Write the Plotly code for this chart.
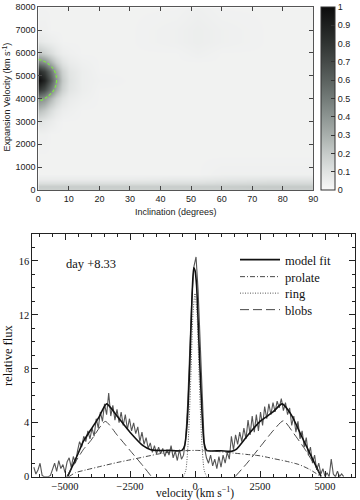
import plotly.graph_objects as go

# ---------------- top panel: likelihood map ----------------
inclination = [0, 2, 4, 6, 8, 10, 14, 20, 30, 45, 52, 60, 75, 90]
exp_velocity = [0, 150, 300, 450, 700, 1500, 2500, 3000, 3500, 4000, 4400, 4800,
                5200, 5600, 6000, 6500, 7000, 8000]
map_values = [
    [0.17, 0.17, 0.17, 0.17, 0.17, 0.17, 0.17, 0.17, 0.17, 0.17, 0.17, 0.17, 0.18, 0.18],
    [0.19, 0.19, 0.19, 0.19, 0.19, 0.19, 0.19, 0.19, 0.19, 0.19, 0.19, 0.19, 0.20, 0.20],
    [0.12, 0.12, 0.12, 0.12, 0.12, 0.12, 0.12, 0.12, 0.12, 0.12, 0.12, 0.13, 0.14, 0.14],
    [0.06, 0.06, 0.06, 0.06, 0.06, 0.06, 0.06, 0.06, 0.06, 0.07, 0.07, 0.08, 0.09, 0.09],
    [0.03, 0.03, 0.03, 0.03, 0.03, 0.03, 0.03, 0.03, 0.03, 0.03, 0.03, 0.04, 0.04, 0.04],
    [0.03, 0.03, 0.03, 0.03, 0.03, 0.03, 0.03, 0.03, 0.03, 0.03, 0.03, 0.03, 0.03, 0.03],
    [0.04, 0.04, 0.03, 0.03, 0.03, 0.03, 0.03, 0.03, 0.03, 0.03, 0.03, 0.03, 0.03, 0.03],
    [0.10, 0.08, 0.06, 0.04, 0.03, 0.03, 0.03, 0.03, 0.03, 0.03, 0.03, 0.03, 0.03, 0.03],
    [0.25, 0.20, 0.13, 0.08, 0.05, 0.04, 0.03, 0.03, 0.03, 0.03, 0.03, 0.03, 0.03, 0.03],
    [0.45, 0.40, 0.28, 0.17, 0.10, 0.06, 0.04, 0.03, 0.03, 0.03, 0.03, 0.03, 0.03, 0.03],
    [0.80, 0.70, 0.52, 0.32, 0.17, 0.09, 0.05, 0.03, 0.03, 0.03, 0.03, 0.03, 0.03, 0.03],
    [1.00, 0.88, 0.65, 0.40, 0.20, 0.10, 0.05, 0.035, 0.03, 0.03, 0.03, 0.03, 0.03, 0.03],
    [0.85, 0.75, 0.55, 0.33, 0.17, 0.09, 0.05, 0.03, 0.03, 0.03, 0.03, 0.03, 0.03, 0.03],
    [0.48, 0.42, 0.30, 0.18, 0.10, 0.06, 0.04, 0.03, 0.03, 0.03, 0.03, 0.03, 0.03, 0.03],
    [0.22, 0.18, 0.13, 0.08, 0.05, 0.04, 0.03, 0.03, 0.03, 0.03, 0.04, 0.03, 0.03, 0.03],
    [0.08, 0.06, 0.05, 0.04, 0.03, 0.03, 0.03, 0.03, 0.03, 0.04, 0.05, 0.04, 0.03, 0.03],
    [0.04, 0.04, 0.03, 0.03, 0.03, 0.03, 0.03, 0.03, 0.03, 0.04, 0.05, 0.04, 0.03, 0.03],
    [0.03, 0.03, 0.03, 0.03, 0.03, 0.03, 0.03, 0.03, 0.03, 0.03, 0.04, 0.03, 0.03, 0.03],
]
contour_level = 0.4
map_colorscale = [
    [0.0, '#f8f8f8'], [0.1, '#e0e3e2'], [0.2, '#c6cbc9'], [0.3, '#a8afac'],
    [0.4, '#8d9592'], [0.5, '#737b78'], [0.6, '#5b625f'], [0.7, '#454a48'],
    [0.8, '#303432'], [0.9, '#1e201f'], [1.0, '#0c0c0c'],
]

# ---------------- bottom panel: line profile ----------------
obs_velocity = [
    -6200, -6120, -6040, -5960, -5880, -5800, -5720, -5640, -5560, -5480,
    -5400, -5320, -5240, -5160, -5080, -5000, -4920, -4840, -4760, -4680,
    -4600, -4520, -4440, -4360, -4280, -4200, -4120, -4040, -3960, -3880,
    -3800, -3720, -3640, -3560, -3480, -3400, -3320, -3240, -3160, -3080,
    -3000, -2920, -2840, -2760, -2680, -2600, -2520, -2440, -2360, -2280,
    -2200, -2120, -2040, -1960, -1880, -1800, -1720, -1640, -1560, -1480,
    -1400, -1320, -1240, -1160, -1080, -1000, -920, -840, -760, -680,
    -600, -520, -440, -360, -280, -200, -120, -40, 40, 120,
    200, 280, 360, 440, 520, 600, 680, 760, 840, 920,
    1000, 1080, 1160, 1240, 1320, 1400, 1480, 1560, 1640, 1720,
    1800, 1880, 1960, 2040, 2120, 2200, 2280, 2360, 2440, 2520,
    2600, 2680, 2760, 2840, 2920, 3000, 3080, 3160, 3240, 3320,
    3400, 3480, 3560, 3640, 3720, 3800, 3880, 3960, 4040, 4120,
    4200, 4280, 4360, 4440, 4520, 4600, 4680, 4760, 4840, 4920,
    5000, 5080, 5160, 5240, 5320, 5400, 5480, 5560, 5640, 5720,
]
obs_flux = [
    0.7, 0.2, 0.5, 1.0, 0.1, 0.0, 0.0, 0.0, 0.1, 0.6,
    1.0, 0.4, 1.2, 0.6, 0.9, 0.3, 1.1, 1.4, 0.7, 1.5,
    1.0, 1.9, 2.6, 2.2, 3.0, 2.6, 3.4, 2.8, 3.6, 3.0,
    4.3, 3.6, 4.8, 4.1, 5.4, 4.6, 6.2, 4.5, 5.3, 4.2,
    5.0, 4.0, 4.8, 3.8, 4.6, 3.5, 4.3, 3.4, 4.0, 3.2,
    3.7, 2.6, 3.3, 2.4, 2.9, 2.1, 2.5, 1.8, 2.3, 1.7,
    2.2, 1.7, 2.1, 1.5, 2.0, 1.6, 2.3, 1.4, 1.9, 1.2,
    2.0, 1.3, 1.6, 2.8, 5.5, 9.5, 13.3, 15.6, 16.3, 13.8,
    9.5, 5.0, 2.2, 1.4, 1.0, 1.6, 0.8, 1.3, 0.6, 1.5,
    0.7, 1.6, 1.0, 1.8, 1.3, 3.0, 2.0, 3.1, 2.4, 3.3,
    2.6, 3.6, 2.8, 4.2, 3.1, 4.5, 3.3, 4.6, 3.4, 4.8,
    3.8, 5.2, 4.3, 5.4, 4.6, 5.5, 4.8, 5.6, 5.1, 5.8,
    4.9, 5.5, 4.6, 5.1, 3.8, 4.5, 3.3, 4.1, 2.8, 3.4,
    2.2, 2.9, 1.6, 2.2, 1.0, 1.6, 0.5, 1.0, 0.2, 0.6,
    0.0, 0.3, 0.0, 1.3, 0.2, 0.0, 0.4, 0.0, 0.2, 0.0,
]

fit_velocity = [-4900, -4500, -4300, -4000, -3700, -3400, -3000, -2500, -2000, -1700,
                -1500, -1000, -500, -400, -300, -200, -120, -50, 0, 60,
                150, 250, 350, 450, 1000, 1400, 1600, 2000, 2500, 3000,
                3350, 3700, 4100, 4500, 4850]
fit_flux = [0.0, 1.7, 2.6, 3.5, 4.4, 5.4, 4.5, 3.3, 2.3, 2.0,
            1.95, 1.95, 1.95, 2.3, 4.0, 8.3, 13.0, 15.5, 15.3, 14.2,
            10.0, 5.5, 2.5, 1.95, 1.92, 1.88, 2.05, 3.0, 4.1, 4.8,
            5.4, 4.6, 3.0, 1.4, 0.0]

prolate_velocity = [-4850, -4600, -4200, -3600, -3000, -2500, -2000, -1500, -1000, -500,
                    0, 500, 1000, 1500, 2000, 2500, 3000, 3500, 4000, 4400, 4850]
prolate_flux = [0.0, 0.3, 0.5, 0.78, 1.05, 1.25, 1.45, 1.65, 1.82, 1.92,
                1.95, 1.92, 1.85, 1.75, 1.65, 1.55, 1.35, 1.15, 0.9, 0.55, 0.0]

ring_velocity = [-450, -350, -250, -150, -80, 0, 80, 150, 250, 350, 450]
ring_flux = [0.0, 0.5, 3.0, 8.0, 12.0, 13.6, 12.0, 8.0, 3.0, 0.5, 0.0]

blob_velocity = [-4940, -4500, -4300, -4000, -3450, -3000, -2500, -2000, -1670,
                 1540, 2000, 2500, 3000, 3400, 3800, 4240, 4870]
blob_flux = [0.0, 1.4, 2.0, 2.7, 4.1, 3.1, 1.95, 0.8, 0.0,
             0.0, 1.0, 2.2, 3.4, 4.15, 3.2, 2.0, 0.0]
blob_side = ['left'] * 9 + ['right'] * 8

label_text = 'day +8.33'

W, H = 360, 500


def fx(px):
    return min(1.0, max(0.0, px / W))


def fy(py):
    return min(1.0, max(0.0, 1 - py / H))


fig = go.Figure()

fig.add_trace(go.Heatmap(
    x=inclination, y=exp_velocity, z=map_values,
    colorscale=map_colorscale, zmin=0, zmax=1, zsmooth='best',
    xaxis='x', yaxis='y',
    colorbar=dict(
        x=fx(320.7), xanchor='left', y=fy(190), yanchor='bottom',
        len=(190 - 7.3) / H, lenmode='fraction', thickness=13.6, thicknessmode='pixels',
        outlinecolor='#333', outlinewidth=1,
        ticks='inside', ticklen=4, tickcolor='#333',
        tickvals=[0, 0.1, 0.2, 0.3, 0.4, 0.5, 0.6, 0.7, 0.8, 0.9, 1],
        ticktext=['0', '0.1', '0.2', '0.3', '0.4', '0.5', '0.6', '0.7', '0.8', '0.9', '1'],
        tickfont=dict(family='Liberation Sans', size=9, color='#222'),
        xpad=0, ypad=0,
    ),
    showlegend=False, hoverinfo='skip',
))
fig.add_trace(go.Contour(
    x=inclination, y=exp_velocity, z=map_values,
    contours=dict(start=contour_level, end=contour_level, size=0.1, coloring='none'),
    line=dict(color='#7fe04a', width=1.3, dash='3px,2px', smoothing=1.3),
    showscale=False, showlegend=False, hoverinfo='skip',
    xaxis='x', yaxis='y',
))

fig.add_trace(go.Scatter(
    x=obs_velocity, y=obs_flux, mode='lines',
    line=dict(color='#555', width=1.1),
    xaxis='x2', yaxis='y2', showlegend=False, hoverinfo='skip',
))
fig.add_trace(go.Scatter(
    x=fit_velocity, y=fit_flux, mode='lines', name='model fit', legend='legend',
    line=dict(color='#111', width=1.6, shape='spline', smoothing=0.6),
    xaxis='x2', yaxis='y2',
))
fig.add_trace(go.Scatter(
    x=prolate_velocity, y=prolate_flux, mode='lines', name='prolate', legend='legend2',
    line=dict(color='#333', width=0.9, dash='5px,2px,1px,2px', shape='spline', smoothing=0.6),
    xaxis='x2', yaxis='y2',
))
fig.add_trace(go.Scatter(
    x=ring_velocity, y=ring_flux, mode='lines', name='ring', legend='legend3',
    line=dict(color='#444', width=0.9, dash='1px,1.5px', shape='spline', smoothing=0.6),
    xaxis='x2', yaxis='y2',
))
for side, show in (('left', True), ('right', False)):
    xs = [v for v, s in zip(blob_velocity, blob_side) if s == side]
    ys = [f for f, s in zip(blob_flux, blob_side) if s == side]
    fig.add_trace(go.Scatter(
        x=xs, y=ys, mode='lines', name='blobs', legendgroup='blobs', showlegend=show,
        legend='legend4',
        line=dict(color='#333', width=0.9, dash='9px,4px', shape='spline', smoothing=0.6),
        xaxis='x2', yaxis='y2',
    ))

sans = dict(family='Liberation Sans', size=9, color='#222')
serif = dict(family='Liberation Serif', size=12.5, color='#111')
serif_title = dict(family='Liberation Serif', size=11.5, color='#111')
serif_tick = dict(family='Liberation Serif', size=10.5, color='#111')


def legend_at(row_y):
    return dict(
        x=fx(235), xanchor='left', y=fy(row_y), yanchor='middle',
        bgcolor='rgba(0,0,0,0)', borderwidth=0,
        font=dict(family='Liberation Serif', size=12.5, color='#111'),
        itemwidth=40,
    )


fig.update_layout(
    width=W, height=H, margin=dict(l=0, r=0, t=0, b=0, autoexpand=False),
    paper_bgcolor='white', plot_bgcolor='white',
    xaxis=dict(
        domain=[fx(38.3), fx(313.3)], anchor='y', range=[0, 90], automargin=False,
        tickvals=[0, 10, 20, 30, 40, 50, 60, 70, 80, 90],
        ticks='inside', ticklen=4, tickcolor='#444', mirror='allticks',
        showline=True, linecolor='#555', linewidth=1, showgrid=False, zeroline=False,
        tickfont=sans,
    ),
    yaxis=dict(
        domain=[fy(190), fy(7.3)], anchor='x', range=[0, 8000], automargin=False,
        tickvals=[0, 1000, 2000, 3000, 4000, 5000, 6000, 7000, 8000],
        ticks='inside', ticklen=4, tickcolor='#444', mirror='allticks',
        showline=True, linecolor='#555', linewidth=1, showgrid=False, zeroline=False,
        tickfont=sans,
    ),
    xaxis2=dict(
        domain=[fx(32.3), fx(355)], anchor='y2', range=[-6258, 6154], automargin=False,
        tickvals=[-5000, -2500, 0, 2500, 5000],
        ticktext=['\u22125000', '\u22122500', '0', '2500', '5000'],
        ticks='inside', ticklen=6, tickcolor='#222', mirror='allticks',
        minor=dict(dtick=500, ticks='inside', ticklen=3, tickcolor='#222'),
        showline=True, linecolor='#222', linewidth=1, showgrid=False, zeroline=False,
        tickfont=serif_tick,
    ),
    yaxis2=dict(
        domain=[fy(476.7), fy(234)], anchor='x2', range=[0, 18], automargin=False,
        tickvals=[0, 4, 8, 12, 16],
        ticks='inside', ticklen=6, tickcolor='#222', mirror='allticks',
        minor=dict(dtick=1, ticks='inside', ticklen=3, tickcolor='#222'),
        showline=True, linecolor='#222', linewidth=1, showgrid=False, zeroline=False,
        tickfont=serif_tick,
    ),
    legend=legend_at(260),
    legend2=legend_at(277),
    legend3=legend_at(293.5),
    legend4=legend_at(310),
    annotations=[
        dict(x=-4000, y=15.8, xref='x2', yref='y2', text=label_text, showarrow=False,
             xanchor='center', yanchor='middle', font=serif),
        dict(x=fx(176), y=fy(212), xref='paper', yref='paper',
             text='Inclination (degrees)', showarrow=False,
             xanchor='center', yanchor='middle', font=sans),
        dict(x=fx(6.5), y=fy(97), xref='paper', yref='paper',
             text='Expansion Velocity (km s<sup>-1</sup>)', showarrow=False, textangle=-90,
             xanchor='center', yanchor='middle', font=sans),
        dict(x=fx(195), y=0, xref='paper', yref='paper',
             text='velocity (km s<sup>\u22121</sup>)', showarrow=False,
             xanchor='center', yanchor='bottom', yshift=-2, font=serif_title),
        dict(x=fx(8), y=fy(356), xref='paper', yref='paper',
             text='relative flux', showarrow=False, textangle=-90,
             xanchor='center', yanchor='middle', font=serif),
    ],
)

fig.write_html('out.html', config={'displayModeBar': False},
               post_script="document.body.style.margin='0px';")
